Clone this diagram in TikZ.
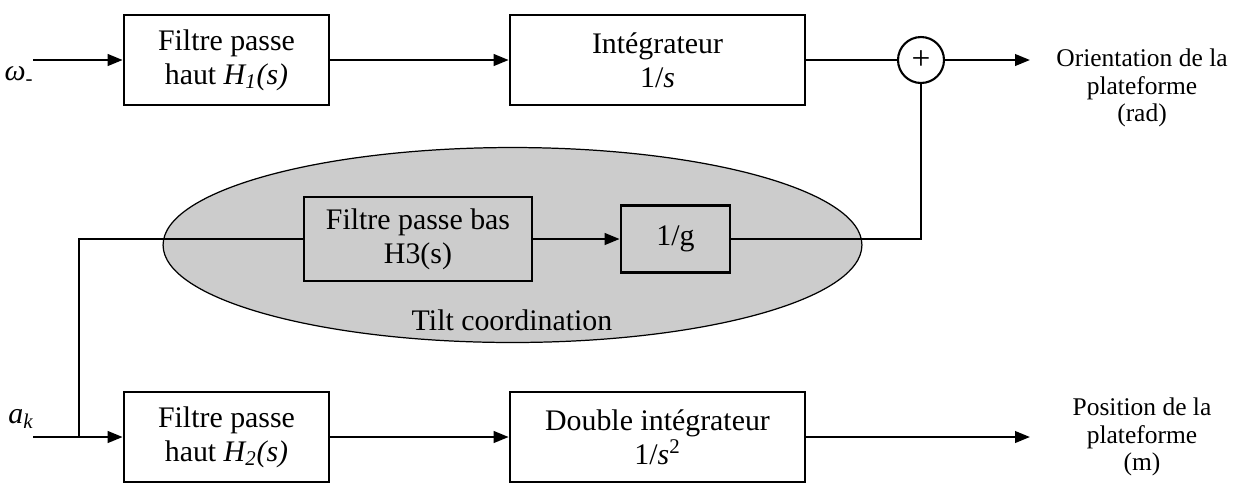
\documentclass[tikz,border=0pt]{standalone}
\usepackage{fontspec}
\setmainfont{Liberation Serif}
\usepackage{tikz}
\usetikzlibrary{arrows.meta, positioning, shapes.geometric}
\definecolor{tiltfill}{HTML}{CCCCCC}

\begin{document}
\begin{tikzpicture}[
    x=0.02cm, y=-0.02cm,
    block/.style={rectangle, draw=black, line width=1.5pt, fill=white,
                  align=center, font=\fontsize{17}{19.5}\selectfont},
    sum/.style={circle, draw=black, line width=1.2pt, fill=white,
                minimum size=0.92cm, inner sep=0pt, font=\fontsize{19}{19}\selectfont},
    outlabel/.style={align=center, font=\fontsize{14.5}{15.8}\selectfont},
    arrow/.style={-{Triangle[length=0.3cm, width=0.23cm]}, line width=1.4pt},
    wire/.style={line width=1.4pt}
  ]
    \useasboundingbox (0,0) rectangle (1243,485);

    % Tilt coordination
    \node[ellipse, draw=black, line width=0.7pt, fill=tiltfill,
          minimum width=13.98cm, minimum height=3.9cm] (tilt) at (512.5,245) {};
    \node[font=\fontsize{17}{19.5}\selectfont] (tilttxt) at (512,320) {Tilt coordination};

    % Blocks
    \node[block, minimum width=4.1cm, minimum height=1.8cm] (hp1) at (226.5,60)
      {Filtre passe\\haut \textit{H\textsubscript{1}(s)}};
    \node[block, minimum width=5.9cm, minimum height=1.8cm] (integ) at (657.5,60)
      {Intégrateur\\1/\textit{s}};
    \node[block, fill=tiltfill, minimum width=4.56cm, minimum height=1.68cm] (lp3) at (418,239)
      {Filtre passe bas\\H3(s)};
    \node[block, fill=tiltfill, minimum width=2.18cm, minimum height=1.34cm] (invg) at (675.5,239)
      {1/g};
    \node[block, minimum width=4.1cm, minimum height=1.8cm] (hp2) at (226.5,437)
      {Filtre passe\\haut \textit{H\textsubscript{2}(s)}};
    \node[block, minimum width=5.9cm, minimum height=1.8cm] (dinteg) at (657.5,437)
      {Double intégrateur\\1/\textit{s}\textsuperscript{2}};
    \node[sum] (sum) at (921,60) {+};

    % Inputs and outputs
    \node[font=\fontsize{17}{19.5}\selectfont] (omega) at (19,76) {\textit{ω}\textsubscript{-}};
    \node[font=\fontsize{17}{19.5}\selectfont] (accel) at (21,419) {\textit{a\textsubscript{k}}};
    \coordinate (win) at (33,60);
    \coordinate (ain) at (33,437);
    \coordinate (split) at (79,437);
    \coordinate (orient) at (1030,60);
    \coordinate (pos) at (1030,437);
    \node[outlabel] (orientlbl) at (1142,88) {Orientation de la\\plateforme\\(rad)};
    \node[outlabel] (poslbl) at (1142,437) {Position de la\\plateforme\\(m)};

    % Connections
    \draw[arrow] (win) -- (hp1);
    \draw[arrow] (hp1) -- (integ);
    \draw[wire] (integ) -- (sum);
    \draw[arrow] (sum) -- (orient);
    \draw[arrow] (ain) -- (hp2);
    \draw[arrow] (hp2) -- (dinteg);
    \draw[arrow] (dinteg) -- (pos);
    \draw[wire] (split) |- (lp3.west);
    \draw[arrow] (lp3) -- (invg);
    \draw[wire] (invg.east) -| (sum.south);
  \end{tikzpicture}
\end{document}
